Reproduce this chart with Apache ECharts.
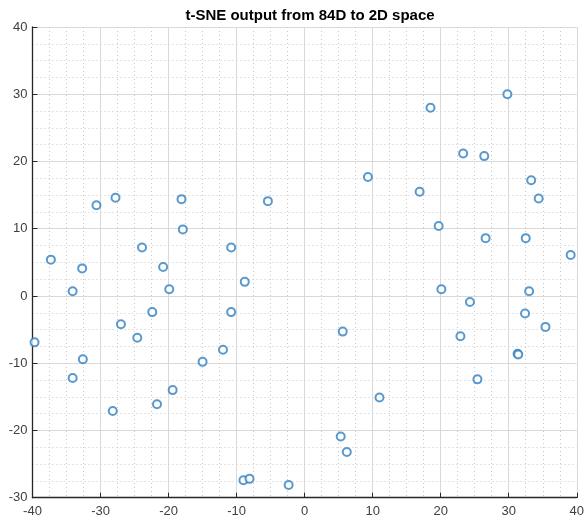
<!DOCTYPE html>
<html><head><meta charset="utf-8">
<script src="https://cdn.jsdelivr.net/npm/echarts@6/dist/echarts.min.js"></script>
<style>html,body{margin:0;padding:0;background:#fff}#c{width:587px;height:525px}</style>
</head><body><div id="c"></div>
<script>
const titleText = 't-SNE output from 84D to 2D space';
const xValues = [-39.7,-37.3,-32.7,-34.1,-30.6,-27.8,-18.1,-17.9,-5.4,-23.9,-10.8,-20.8,-8.8,-19.9,-22.4,-10.8,-27.0,-24.6,-12.0,-15.0,-32.6,-34.1,-19.4,-21.7,-28.2,-9.0,-8.1,-2.35,5.3,6.2,11.0,23.3,26.4,9.3,33.3,16.9,34.4,19.7,26.6,32.5,39.1,20.1,33.0,24.3,32.4,35.4,5.6,22.9,31.3,31.4,25.4,18.5,29.8];
const yValues = [-6.9,5.4,4.1,0.7,13.5,14.6,14.4,9.9,14.1,7.2,7.2,4.3,2.1,1.0,-2.4,-2.4,-4.2,-6.2,-8.0,-9.8,-9.4,-12.2,-14.0,-16.1,-17.1,-27.4,-27.2,-28.1,-20.9,-23.2,-15.1,21.2,20.8,17.7,17.2,15.5,14.5,10.4,8.6,8.6,6.1,1.0,0.7,-0.9,-2.6,-4.6,-5.3,-6.0,-8.6,-8.7,-12.4,28.0,30.0];
const xTicks = [-40,-30,-20,-10,0,10,20,30,40];
const yTicks = [-30,-20,-10,0,10,20,30,40];

const points = xValues.map((x,i)=>[x,yValues[i]]);
const chart = echarts.init(document.getElementById('c'), null, {renderer:'canvas'});
const font = '"Liberation Sans", Arial, sans-serif';
function axisCommon(ticks){
  return {
    type:'value', min:ticks[0], max:ticks[ticks.length-1], interval:10,
    axisLine:{show:true,onZero:false,lineStyle:{color:'#262626',width:1.3}},
    axisTick:{show:true,inside:true,length:5,lineStyle:{color:'#262626',width:1}},
    minorTick:{show:false,splitNumber:4},
    splitLine:{show:true,lineStyle:{color:'#d9d9d9',width:1}},
    minorSplitLine:{show:true,lineStyle:{color:'#c8c8c8',width:1,type:[1,3]}},
    axisLabel:{color:'#404040',fontSize:13,fontFamily:font}
  };
}
const xa = axisCommon(xTicks); xa.axisLabel.margin = 7;
const ya = axisCommon(yTicks); ya.axisLabel.margin = 5;
chart.setOption({
  animation:false,
  backgroundColor:'#fff',
  title:{text:titleText,left:305,textAlign:'center',top:3,textStyle:{fontSize:15,fontWeight:'bold',color:'#000',fontFamily:font}},
  grid:{left:32.5,right:9,top:27,bottom:27.3,containLabel:false},
  xAxis:xa,
  yAxis:ya,
  series:[{
    type:'scatter', data:points, symbol:'emptyCircle', symbolSize:8,
    itemStyle:{color:'#2f7fc1',borderWidth:1.6}
  }]
});
</script></body></html>
